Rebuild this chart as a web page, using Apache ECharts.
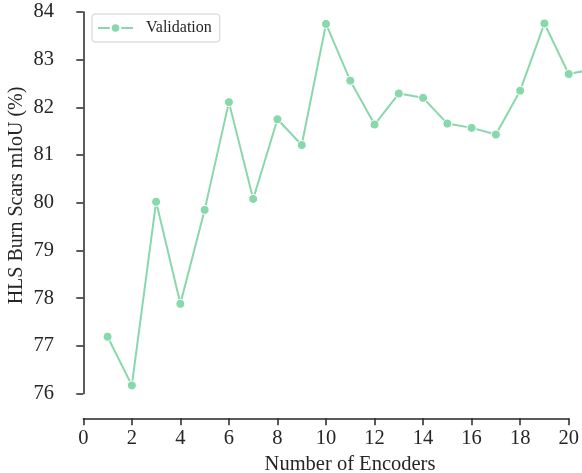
<!DOCTYPE html>
<html>
<head>
<meta charset="utf-8">
<script src="https://cdn.jsdelivr.net/npm/echarts@6/dist/echarts.min.js"></script>
<style>html,body{margin:0;padding:0;background:#fff}#c{width:582px;height:473px}</style>
</head>
<body>
<div id="c"></div>
<script>
const encoders = [1,2,3,4,5,6,7,8,9,10,11,12,13,14,15,16,17,18,19,20,21];
const validation = [77.19,76.17,80.02,77.88,79.85,82.11,80.08,81.75,81.21,83.75,82.56,81.64,82.29,82.20,81.66,81.57,81.43,82.35,83.76,82.70,82.80];
const xTicks = [0,20,2];
const yTicks = [76,84,1];

const ink = '#262626';
const green = '#88d8ab';
const font = 'Liberation Serif';

// geometry of the plotting region (pixels)
const gLeft = 83.3, gTop = 12, gBottom = 79.5, gRightAxis = 13.3;
const W = 582;
// the data frame extends to the right edge of the canvas with the same scale
const xSpan = xTicks[1] - xTicks[0];
const pxPerUnit = (W - gLeft - gRightAxis) / xSpan;
const dataMaxX = xTicks[0] + (W - gLeft) / pxPerUnit;

const chart = echarts.init(document.getElementById('c'), null, {renderer:'canvas'});
chart.setOption({
  animation:false,
  textStyle:{fontFamily:font},
  grid:[
    {left:gLeft, right:gRightAxis, top:gTop, bottom:gBottom, containLabel:false, outerBoundsMode:'none'},
    {left:gLeft, right:0, top:gTop, bottom:gBottom, containLabel:false, outerBoundsMode:'none'}
  ],
  legend:{
    left:92, top:14, padding:[6,8,6,5],
    borderColor:'#d0d0d0', borderWidth:1, borderRadius:3,
    itemWidth:35, itemHeight:12,
    textStyle:{fontFamily:font, fontSize:16, color:ink, padding:[0,0,0,8]},
    data:['Validation']
  },
  xAxis:[{
    gridIndex:0,
    type:'value', min:xTicks[0], max:xTicks[1], interval:xTicks[2],
    offset:24.8,
    name:'Number of Encoders', nameLocation:'middle', nameGap:36,
    nameTextStyle:{fontFamily:font, fontSize:20.5, color:ink, padding:[0,0,0,48]},
    axisLine:{lineStyle:{color:ink, width:1.5}},
    axisTick:{length:7, lineStyle:{color:ink, width:1.5}},
    axisLabel:{fontFamily:font, fontSize:20.5, color:ink, margin:10},
    splitLine:{show:false}
  },{
    gridIndex:1, show:false,
    type:'value', min:xTicks[0], max:dataMaxX, splitLine:{show:false}
  }],
  yAxis:[{
    gridIndex:0,
    type:'value', min:yTicks[0], max:yTicks[1], interval:yTicks[2],
    offset:15.3,
    name:'HLS Burn Scars mIoU (%)', nameLocation:'middle', nameGap:41, nameMoveOverlap:false,
    nameTextStyle:{fontFamily:font, fontSize:20, color:ink, padding:[0,0,0,14.5]},
    axisLine:{show:true, lineStyle:{color:ink, width:1.5}},
    axisTick:{show:true, length:7, lineStyle:{color:ink, width:1.5}},
    axisLabel:{fontFamily:font, fontSize:20.5, color:ink, margin:14},
    splitLine:{show:false}
  },{
    gridIndex:1, show:false,
    type:'value', min:yTicks[0], max:yTicks[1], splitLine:{show:false}
  }],
  series:[{
    name:'Validation', type:'line', xAxisIndex:1, yAxisIndex:1, clip:true,
    data: encoders.map((x,i)=>[x, validation[i]]),
    symbol:'circle', symbolSize:9,
    lineStyle:{color:green, width:2},
    itemStyle:{color:green, borderColor:'#fff', borderWidth:1}
  }]
});
</script>
</body>
</html>
